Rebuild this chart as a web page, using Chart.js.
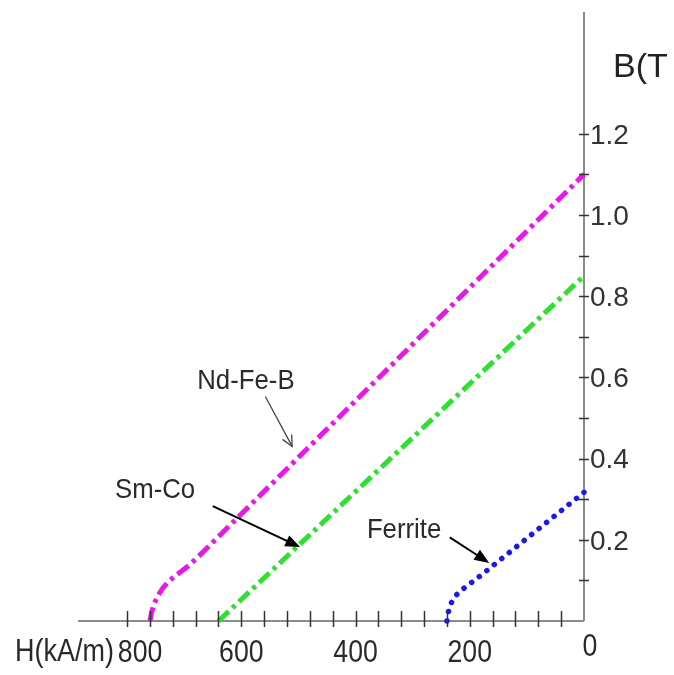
<!DOCTYPE html>
<html>
<head>
<meta charset="utf-8">
<script src="https://cdn.jsdelivr.net/npm/chart.js@4.4.0/dist/chart.umd.min.js"></script>
<style>
  html, body { margin: 0; padding: 0; background: #fff; }
  #wrap { width: 674px; height: 675px; }
</style>
</head>
<body>
<div id="wrap"><canvas id="bh"></canvas></div>
<script>
// demagnetisation curves, H in kA/m (plotted right-to-left), B in T
var ndfebH = [760, 757, 752, 745, 737, 727, 714, 698, 680, 0];
var ndfebB = [0, 0.022, 0.045, 0.065, 0.082, 0.098, 0.113, 0.13, 0.152, 1.1];
var smcoH = [640, 0];
var smcoB = [0, 0.85];
var ferriteH = [240, 238, 234, 228, 219, 207, 193, 180, 0];
var ferriteB = [0, 0.02, 0.04, 0.057, 0.071, 0.084, 0.099, 0.113, 0.317];

var xTickLabels = [800, 600, 400, 200, 0];
var yTickLabels = [0.2, 0.4, 0.6, 0.8, 1.0, 1.2];

// curve name, label anchor (H, B), arrow from (H, B) to (H, B)
var notes = [
  { text: "Nd-Fe-B", at: [592, 0.59], from: [558, 0.553], to: [511, 0.43], head: "open" },
  { text: "Sm-Co", at: [751, 0.322], from: [650, 0.283], to: [497, 0.182], head: "fill" },
  { text: "Ferrite", at: [315, 0.224], from: [235, 0.206], to: [166, 0.143], head: "fill" },
];

function pts(hs, bs) {
  var out = [];
  for (var i = 0; i < hs.length; i++) out.push({ x: hs[i], y: bs[i] });
  return out;
}

function squeezedText(ctx, txt, x, y, sx, align) {
  ctx.save();
  ctx.translate(x, y);
  ctx.scale(sx, 1);
  ctx.textAlign = align;
  ctx.fillText(txt, 0, 0);
  ctx.restore();
}

var axesPlugin = {
  id: "bhAxes",
  beforeDatasetsDraw: function (chart) {
    var ctx = chart.ctx, a = chart.chartArea;
    ctx.save();
    ctx.strokeStyle = "#8c8c8c";
    ctx.lineWidth = 2;
    ctx.beginPath();
    ctx.moveTo(a.left, a.bottom);
    ctx.lineTo(a.right, a.bottom);
    ctx.moveTo(a.right, a.top);
    ctx.lineTo(a.right, a.bottom);
    ctx.stroke();
    ctx.restore();
  },
  afterDatasetsDraw: function (chart) {
    var ctx = chart.ctx, a = chart.chartArea;
    var xs = chart.scales.x, ys = chart.scales.y;
    ctx.save();
    ctx.strokeStyle = "#333";
    ctx.lineWidth = 1.5;
    ctx.beginPath();
    for (var h = 40; h <= 800; h += 40) {
      var px = Math.round(xs.getPixelForValue(h)) + 0.5;
      ctx.moveTo(px, a.bottom - 10);
      ctx.lineTo(px, a.bottom + 6);
    }
    for (var k = 1; k <= 12; k++) {
      var py = Math.round(ys.getPixelForValue(k / 10)) + 0.5;
      ctx.moveTo(a.right - 5, py);
      ctx.lineTo(a.right + 5, py);
    }
    ctx.stroke();

    ctx.fillStyle = "#2a2a2a";
    ctx.textBaseline = "middle";
    ctx.font = "31px 'Liberation Sans', Arial, sans-serif";
    xTickLabels.forEach(function (v) {
      var px = xs.getPixelForValue(v), py = a.bottom + 32;
      if (v === 800) px += 13;
      if (v === 0) { px += 6; py -= 6; }
      squeezedText(ctx, String(v), px, py, 0.86, "center");
    });
    squeezedText(ctx, "H(kA/m)", 15, a.bottom + 31, 0.87, "left");

    ctx.font = "28px 'Liberation Sans', Arial, sans-serif";
    ctx.fillStyle = "#333";
    yTickLabels.forEach(function (v) {
      squeezedText(ctx, v.toFixed(1), a.right + 6, ys.getPixelForValue(v) + 2, 1, "left");
    });
    ctx.font = "34px 'Liberation Sans', Arial, sans-serif";
    ctx.fillStyle = "#222";
    squeezedText(ctx, "B(T", a.right + 29, 68, 1, "left");

    ctx.font = "28px 'Liberation Sans', Arial, sans-serif";
    notes.forEach(function (n) {
      ctx.fillStyle = "#2a2a2a";
      squeezedText(ctx, n.text, xs.getPixelForValue(n.at[0]), ys.getPixelForValue(n.at[1]), 0.92, "center");
      var x1 = xs.getPixelForValue(n.from[0]), y1 = ys.getPixelForValue(n.from[1]);
      var x2 = xs.getPixelForValue(n.to[0]), y2 = ys.getPixelForValue(n.to[1]);
      var ang = Math.atan2(y2 - y1, x2 - x1);
      ctx.strokeStyle = n.head === "open" ? "#444" : "#000";
      ctx.lineWidth = n.head === "open" ? 1.3 : 2;
      ctx.beginPath();
      ctx.moveTo(x1, y1);
      ctx.lineTo(n.head === "open" ? x2 : x2 - 10 * Math.cos(ang), n.head === "open" ? y2 : y2 - 10 * Math.sin(ang));
      ctx.stroke();
      var len = n.head === "open" ? 12 : 16, spread = n.head === "open" ? 0.45 : 0.38;
      var ax = x2 - len * Math.cos(ang - spread), ay = y2 - len * Math.sin(ang - spread);
      var bx = x2 - len * Math.cos(ang + spread), by = y2 - len * Math.sin(ang + spread);
      ctx.beginPath();
      if (n.head === "open") {
        ctx.moveTo(ax, ay);
        ctx.lineTo(x2, y2);
        ctx.lineTo(bx, by);
        ctx.stroke();
      } else {
        ctx.fillStyle = "#000";
        ctx.moveTo(x2, y2);
        ctx.lineTo(ax, ay);
        ctx.lineTo(bx, by);
        ctx.closePath();
        ctx.fill();
      }
    });
    ctx.restore();
  },
};

var dashDot = [14, 5, 4, 5];

new Chart(document.getElementById("bh"), {
  type: "scatter",
  data: {
    datasets: [
      {
        label: "Nd-Fe-B",
        data: pts(ndfebH, ndfebB),
        showLine: true,
        borderColor: "#e619e6",
        borderWidth: 5,
        borderDash: dashDot,
        pointRadius: 0,
        tension: 0,
        clip: false,
      },
      {
        label: "Sm-Co",
        data: pts(smcoH, smcoB),
        showLine: true,
        borderColor: "#2fe02f",
        borderWidth: 5,
        borderDash: dashDot,
        pointRadius: 0,
        tension: 0,
        clip: false,
      },
      {
        label: "Ferrite",
        data: pts(ferriteH, ferriteB),
        showLine: true,
        borderColor: "#1a1ae0",
        borderWidth: 5.5,
        borderDash: [0.1, 9.5],
        borderCapStyle: "round",
        pointRadius: 0,
        tension: 0,
        clip: false,
      },
    ],
  },
  options: {
    responsive: true,
    maintainAspectRatio: false,
    animation: false,
    layout: { padding: { left: 78, right: 90, top: 12, bottom: 54 } },
    plugins: { legend: { display: false }, tooltip: { enabled: false } },
    scales: {
      x: { type: "linear", min: 0, max: 886, reverse: true, display: false },
      y: { type: "linear", min: 0, max: 1.5, display: false },
    },
  },
  plugins: [axesPlugin],
});
</script>
</body>
</html>
